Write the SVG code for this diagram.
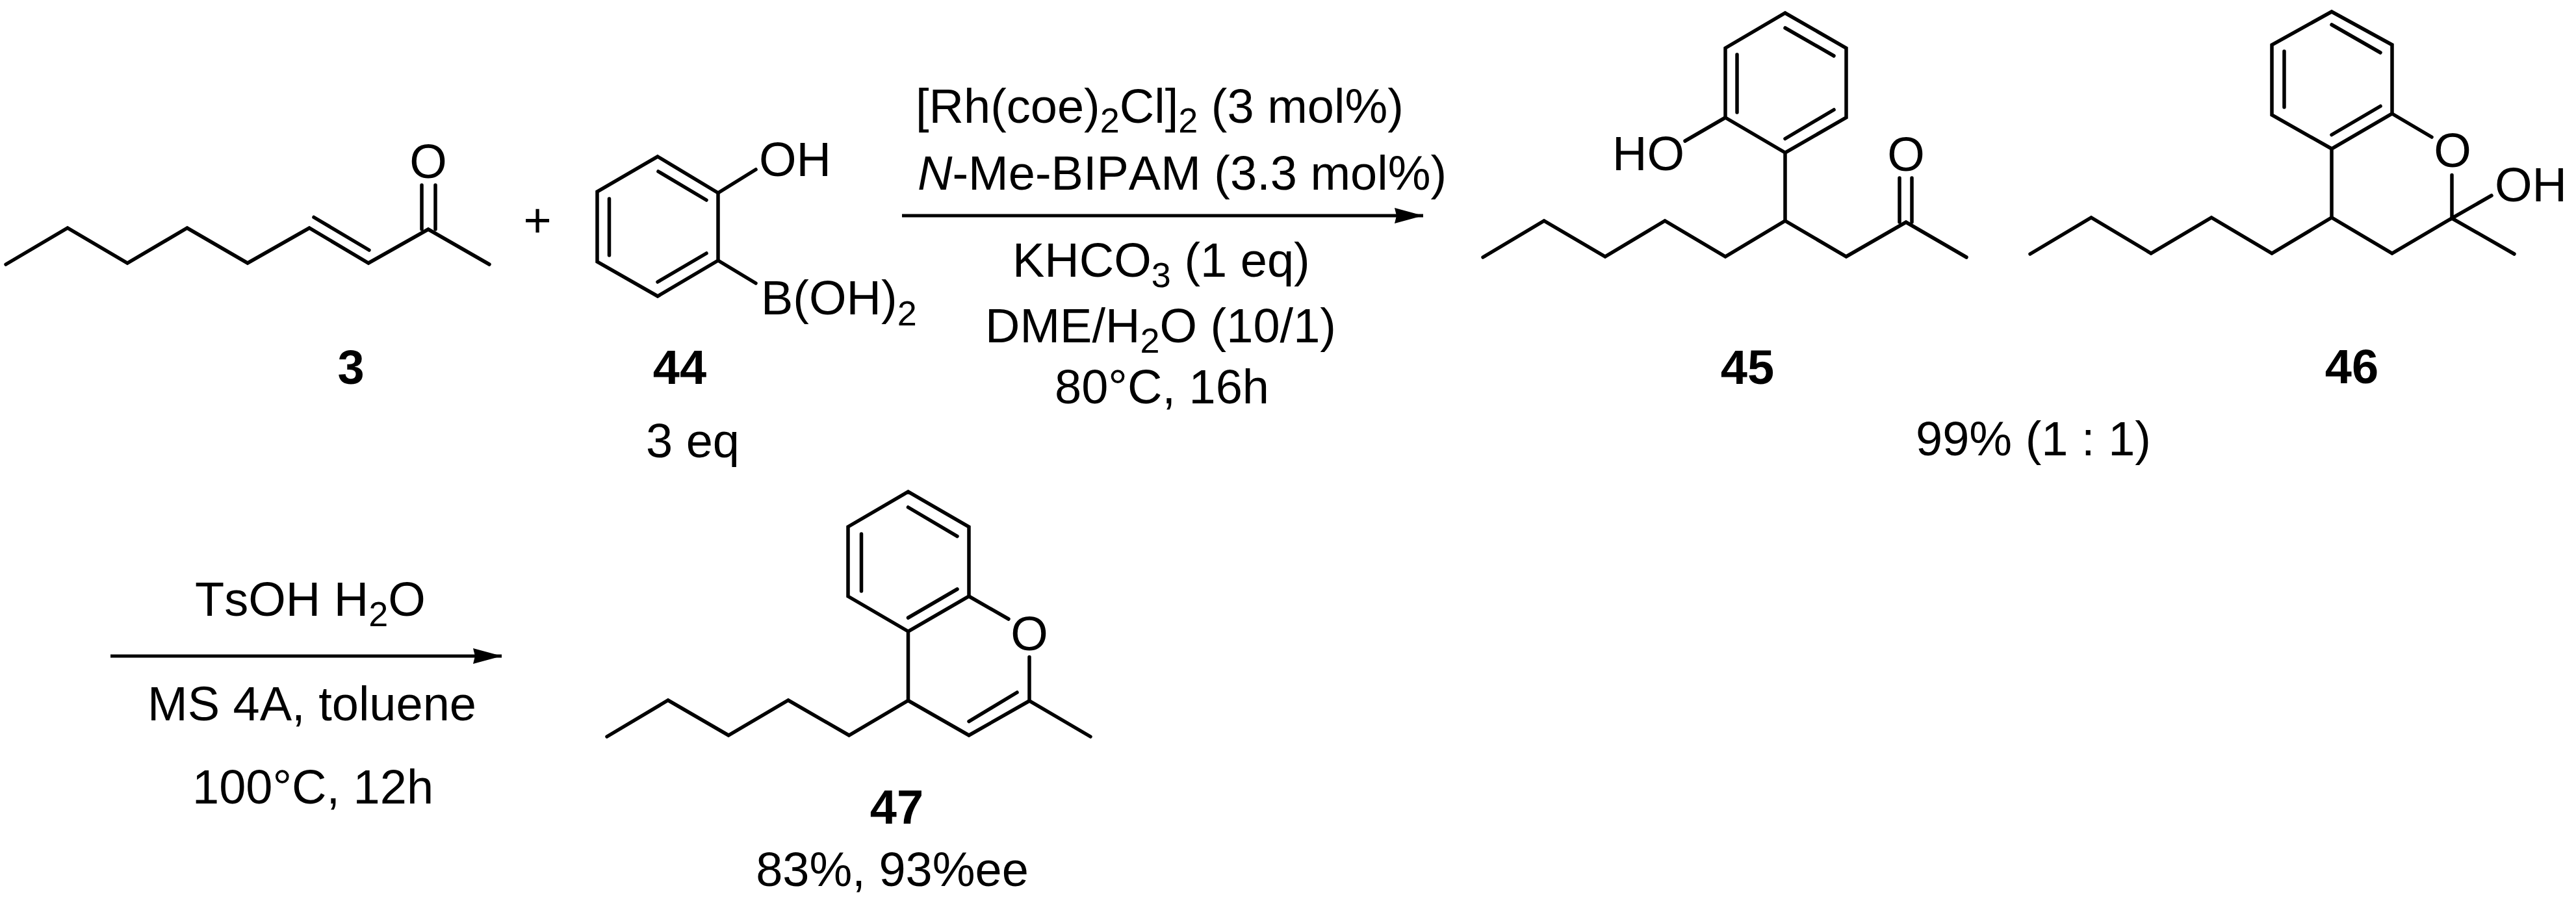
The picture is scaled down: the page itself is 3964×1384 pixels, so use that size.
<svg xmlns="http://www.w3.org/2000/svg" width="3964" height="1384" viewBox="0 0 3964 1384">
<defs>
<style>
text{font-family:"Liberation Sans",Arial,sans-serif;font-size:74px;fill:#000;font-kerning:none}
.b{font-weight:700}
.m{text-anchor:middle}
.sub{font-size:54px}
.bond{fill:none;stroke:#000;stroke-width:5.5;stroke-linejoin:miter;stroke-linecap:round}
.arrow{fill:none;stroke:#000;stroke-width:5}
</style>
<marker id="head" markerUnits="userSpaceOnUse" markerWidth="48" markerHeight="28" refX="44" refY="12" orient="auto" viewBox="0 0 48 24"><path d="M0,0 L44,12 L0,24 L3,12 Z" fill="#000"/></marker>
</defs>
<rect width="3964" height="1384" fill="#fff"/>
<g id="connectors">
<line class="arrow" x1="1388" y1="332" x2="2190" y2="332" marker-end="url(#head)"/>
<line class="arrow" x1="170" y1="1010" x2="772" y2="1010" marker-end="url(#head)"/>
</g>
<g id="compound-3">
<path class="bond" d="M9,407 L104,351 L196,405 L288,351 L381,405 L476,351 L567,405 L659,353 L753,407"/>
<path class="bond" d="M483,334.5 L568,385 M649,353 V285 M670,353 V285"/>
<text class="m" x="659" y="274">O</text>
<text class="b m" x="540" y="591">3</text>
</g>
<g id="plus"><text class="m" x="827" y="365">+</text></g>
<g id="compound-44">
<path class="bond" d="M1012,241 L1105,297 V401 L1012,456 L919,403 V295 Z"/>
<path class="bond" d="M1013,264 L1087,308 M937.5,306 V393 M1087,390 L1012,434 M1105,297 L1163,261 M1105,401 L1163,436"/>
<text x="1168" y="271">OH</text>
<text x="1171" y="484">B(OH)<tspan class="sub" dy="17">2</tspan></text>
<text class="b m" x="1046" y="591">44</text>
<text class="m" x="1066" y="704">3 eq</text>
</g>
<g id="conditions-1">
<text x="1409" y="189">[Rh(coe)<tspan class="sub" dy="15">2</tspan><tspan dy="-15">Cl]</tspan><tspan class="sub" dy="15">2</tspan><tspan dy="-15"> (3 mol%)</tspan></text>
<text x="1412" y="292"><tspan font-style="italic">N</tspan>-Me-BIPAM (3.3 mol%)</text>
<text x="1558" y="426">KHCO<tspan class="sub" dy="16">3</tspan><tspan dy="-16"> (1 eq)</tspan></text>
<text x="1516" y="527">DME/H<tspan class="sub" dy="16">2</tspan><tspan dy="-16">O (10/1)</tspan></text>
<text class="m" x="1788" y="621">80°C, 16h</text>
</g>
<g id="compound-45">
<path class="bond" d="M2282,396 L2376,340 L2470,395 L2562,340 L2655,395 L2747,340 L2841,395 L2933,342 L3026,396"/>
<path class="bond" d="M2747,340 V235 L2841,181 V74 L2747,20 L2655,74 V181 L2747,235"/>
<path class="bond" d="M2923,342 V274 M2942,342 V274 M2747,43 L2822,86 M2673,84 V173 M2822,169 L2747,213.5 M2655,181 L2593,217"/>
<text x="2481" y="262">HO</text>
<text class="m" x="2933" y="263">O</text>
<text class="b m" x="2689" y="591">45</text>
</g>
<g id="compound-46">
<path class="bond" d="M3124,391 L3218,335 L3310,390 L3403,335 L3496,390 L3588,335 L3681,390 L3773,336 L3869,391"/>
<path class="bond" d="M3588,335 V229 L3681,175 V69 L3588,18 L3496,69 V177 L3588,229"/>
<path class="bond" d="M3588,38 L3663,81 M3515,79 V165 M3663,163.5 L3588,207.5 M3681,175 L3742,211 M3773,269.5 V336 L3834,301"/>
<text class="m" x="3774" y="257">O</text>
<text x="3839" y="310">OH</text>
<text class="b m" x="3619" y="590">46</text>
</g>
<g id="yield-45-46"><text x="2948" y="701">99% (1 : 1)</text></g>
<g id="conditions-2">
<text x="300" y="948">TsOH H<tspan class="sub" dy="16">2</tspan><tspan dy="-16">O</tspan></text>
<text class="m" x="480" y="1109">MS 4A, toluene</text>
<text x="296" y="1237">100°C, 12h</text>
</g>
<g id="compound-47">
<path class="bond" d="M934,1134 L1028,1078 L1121,1132 L1213,1078 L1306.5,1132 L1397.5,1078.5 L1491,1132 L1584,1079 L1678,1134"/>
<path class="bond" d="M1397.5,1078.5 V972 L1491,918 V811 L1397.5,757 L1305,811 V918 L1397.5,972"/>
<path class="bond" d="M1397.5,781 L1473,825.6 M1325.5,822 V910 M1473,907 L1397.5,951 M1491,918 L1552,953 M1584,1011.6 V1079 M1565,1066 L1491,1110.6"/>
<text class="m" x="1584" y="1001">O</text>
<text class="b m" x="1380" y="1268">47</text>
<text class="m" x="1373" y="1364">83%, 93%ee</text>
</g>
</svg>
